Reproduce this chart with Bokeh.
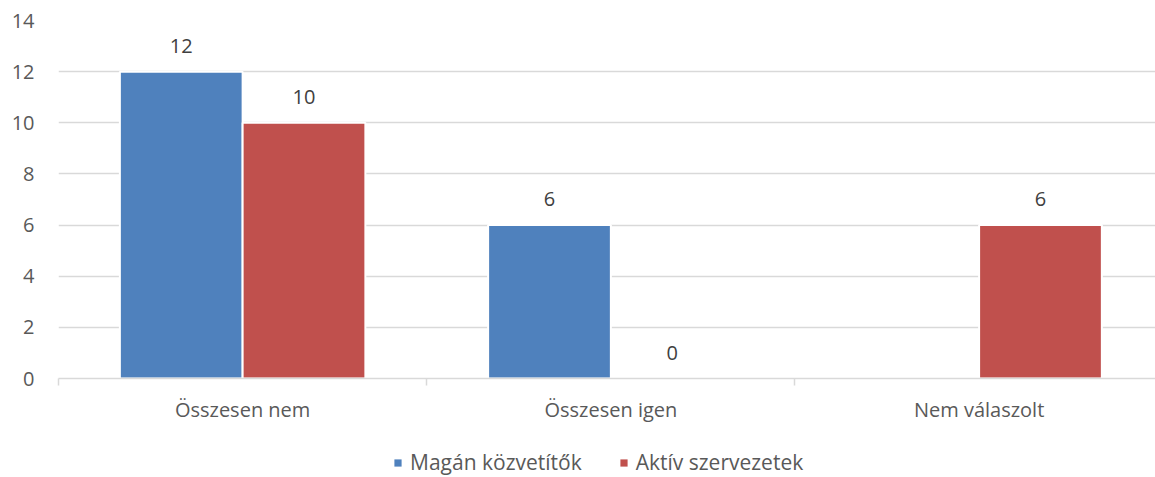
import numpy as np
from bokeh.plotting import figure
from bokeh.layouts import column
from bokeh.models import ColumnDataSource, Range1d, FixedTicker, Legend, LegendItem
from bokeh.core.properties import value
from bokeh.embed import file_html
from bokeh.resources import INLINE

# ---- data ----
categories = ["Összesen nem", "Összesen igen", "Nem válaszolt"]
series_names = ["Magán közvetítők", "Aktív szervezetek"]
magan_kozvetitok = [12, 6, None]
aktiv_szervezetek = [10, 0, 6]
y_ticks = [0, 2, 4, 6, 8, 10, 12, 14]

colors = ["#4F81BD", "#C0504D"]
FONT = "Open Sans"
TXT = "#595959"

p = figure(width=1155, height=437, output_backend="svg", toolbar_location=None,
           x_range=Range1d(0, 2.979), y_range=Range1d(0, 14),
           min_border_left=58, min_border_right=0, min_border_top=20, min_border_bottom=59)
p.outline_line_color = None
p.background_fill_color = "white"
p.border_fill_color = "white"

idx = np.arange(len(categories))
series = [magan_kozvetitok, aktiv_szervezetek]
offsets = [1/3, 2/3]
for vals, col, off in zip(series, colors, offsets):
    tops = np.array([np.nan if v is None else v for v in vals], dtype=float)
    src = ColumnDataSource(dict(x=idx + off, top=tops))
    p.vbar(x="x", top="top", width=1/3, source=src, fill_color=col,
           line_color="white", line_width=2)
    mask = ~np.isnan(tops)
    lsrc = ColumnDataSource(dict(x=(idx + off)[mask], y=tops[mask],
                                 t=[str(int(v)) for v in tops[mask]]))
    p.text(x="x", y="y", text="t", source=lsrc, text_align="center",
           text_baseline="middle", y_offset=-26, text_font=value(FONT),
           text_font_size="20px", text_color="#404040")

# y axis
p.yaxis.ticker = FixedTicker(ticks=y_ticks)
p.yaxis.axis_line_color = None
p.yaxis.major_tick_line_color = None
p.yaxis.minor_tick_line_color = None
p.yaxis.major_tick_out = 0
p.yaxis.major_tick_in = 0
p.yaxis.major_label_standoff = 24
p.yaxis.major_label_text_font = FONT
p.yaxis.major_label_text_font_size = "20px"
p.yaxis.major_label_text_color = TXT

# x axis
p.xaxis.ticker = FixedTicker(ticks=list(idx + 0.5), minor_ticks=list(range(len(categories) + 1)))
p.xaxis.major_label_overrides = {float(i + 0.5): c for i, c in enumerate(categories)}
p.xaxis.major_tick_out = 0
p.xaxis.major_tick_in = 0
p.xaxis.minor_tick_out = 7
p.xaxis.minor_tick_in = 0
p.xaxis.minor_tick_line_color = "#D9D9D9"
p.xaxis.minor_tick_line_width = 1.5
p.xaxis.axis_line_color = "#D9D9D9"
p.xaxis.axis_line_width = 1.5
p.xaxis.major_label_standoff = 10
p.xaxis.major_label_text_font = FONT
p.xaxis.major_label_text_font_size = "20px"
p.xaxis.major_label_text_color = TXT

# grid
p.xgrid.visible = False
p.ygrid.ticker = FixedTicker(ticks=y_ticks)
p.ygrid.grid_line_color = "#D9D9D9"
p.ygrid.grid_line_width = 1.5

# legend strip
lg = figure(width=1155, height=40, output_backend="svg", toolbar_location=None,
            x_range=Range1d(0, 1), y_range=Range1d(0, 1), min_border=0,
            x_axis_type=None, y_axis_type=None)
lg.outline_line_color = None
lg.grid.visible = False
items = []
for n, col in zip(series_names, colors):
    src = ColumnDataSource(dict(x=[np.nan], y=[np.nan]))
    r = lg.rect(x="x", y="y", width=0.1, height=0.1, source=src,
                fill_color=col, line_color=None)
    items.append(LegendItem(label=n, renderers=[r]))
legend = Legend(items=items, location=(335, 1), orientation="horizontal",
                glyph_width=9, glyph_height=9, label_standoff=8, spacing=37,
                padding=0, margin=0, border_line_color=None, background_fill_alpha=0,
                label_text_font=FONT, label_text_font_size="21px", label_text_color=TXT)
lg.add_layout(legend)

open("out.html", "w").write(file_html(column(p, lg, spacing=0), INLINE))
